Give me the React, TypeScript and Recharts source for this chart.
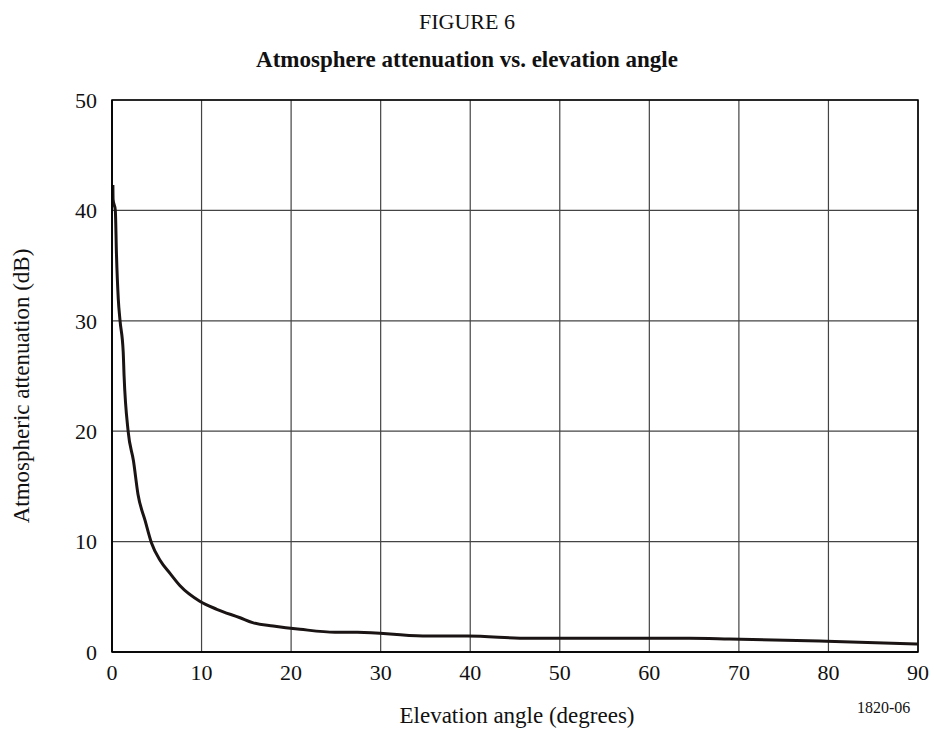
import { LineChart, Line, XAxis, YAxis, CartesianGrid, ReferenceArea } from 'recharts';

// elevation angle (degrees) and attenuation (dB)
const angles = [0.1, 0.12, 0.37, 0.5, 0.7, 0.9, 1.25, 1.35, 1.8, 2.4, 2.9, 3.7, 4.4, 5.4, 6.5, 7.6, 9.8, 11.7, 14.3, 15.7, 18, 21, 24.9, 27.4, 34.7, 39.7, 46.6, 59.7, 64.5, 68.9, 79.8, 90];
const attenuation = [42.3, 41, 40, 36, 32, 30, 27.2, 25, 20, 17.3, 14.3, 11.9, 9.9, 8.26, 7.1, 6.0, 4.6, 3.87, 3.1, 2.66, 2.36, 2.06, 1.79, 1.79, 1.45, 1.45, 1.24, 1.24, 1.24, 1.18, 0.97, 0.73];

const xTicks = [0, 10, 20, 30, 40, 50, 60, 70, 80, 90];
const yTicks = [0, 10, 20, 30, 40, 50];

const data = angles.map((a, i) => ({ angle: a, att: attenuation[i] }));

const FONT = '"Liberation Serif", "Times New Roman", serif';

export default function App() {
  return (
    <div style={{ position: 'absolute', top: 0, left: 0, width: 934, height: 729, overflow: 'hidden', background: '#fff', fontFamily: FONT, color: '#111' }}>
      <div style={{ position: 'absolute', top: 9, left: 0, width: 934, textAlign: 'center', fontSize: 22, lineHeight: '26px' }}>
        FIGURE 6
      </div>
      <div style={{ position: 'absolute', top: 46, left: 0, width: 934, textAlign: 'center', fontSize: 23, lineHeight: '28px', fontWeight: 'bold' }}>
        Atmosphere attenuation vs. elevation angle
      </div>
      <div style={{ position: 'absolute', top: 702, left: 262, width: 510, textAlign: 'center', fontSize: 23, lineHeight: '28px' }}>
        Elevation angle (degrees)
      </div>
      <div style={{ position: 'absolute', top: 698, left: 857, fontSize: 16, lineHeight: '20px' }}>1820-06</div>
      <div
        style={{
          position: 'absolute',
          top: 386,
          left: 22,
          transform: 'translate(-50%, -50%) rotate(-90deg)',
          whiteSpace: 'nowrap',
          fontSize: 23,
          lineHeight: '28px',
        }}
      >
        Atmospheric attenuation (dB)
      </div>
      <LineChart
        width={934}
        height={729}
        data={data}
        margin={{ top: 100, right: 16, bottom: 0, left: 72 }}
        style={{ position: 'absolute', top: 0, left: 0 }}
      >
        <CartesianGrid stroke="#444" strokeWidth={1.2} />
        <XAxis
          dataKey="angle"
          type="number"
          domain={[0, 90]}
          ticks={xTicks}
          interval={0}
          height={77}
          axisLine={{ stroke: '#000', strokeWidth: 1.5 }}
          tickLine={false}
          tick={{ fontSize: 22, fill: '#111', fontFamily: FONT }}
          tickMargin={6}
        />
        <YAxis
          type="number"
          domain={[0, 50]}
          ticks={yTicks}
          interval={0}
          width={40}
          axisLine={{ stroke: '#000', strokeWidth: 1.5 }}
          tickLine={false}
          tick={{ fontSize: 22, fill: '#111', fontFamily: FONT }}
          tickMargin={9}
        />
        <ReferenceArea x1={0} x2={90} y1={0} y2={50} fill="none" stroke="#000" strokeWidth={1.5} />
        <Line
          dataKey="att"
          type="monotone"
          stroke="#1a1414"
          strokeWidth={3}
          dot={false}
          isAnimationActive={false}
        />
      </LineChart>
    </div>
  );
}
